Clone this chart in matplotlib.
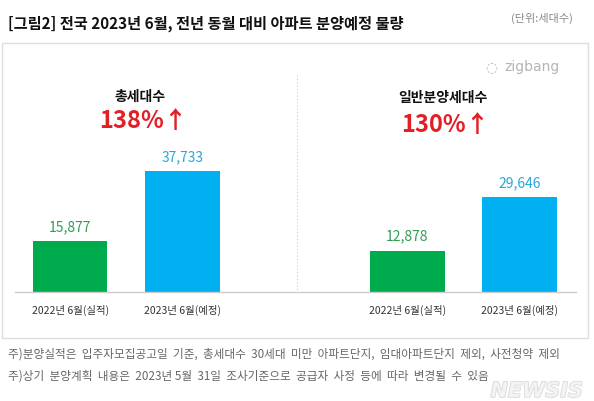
import matplotlib
matplotlib.use("Agg")
import matplotlib.pyplot as plt
from matplotlib.patches import Rectangle
from matplotlib.lines import Line2D
import matplotlib.patheffects as pe

plt.rcParams['font.family'] = ['Noto Sans CJK KR', 'DejaVu Sans']

title = "[그림2] 전국 2023년 6월, 전년 동월 대비 아파트 분양예정 물량"
unit = "(단위:세대수)"
categories = ["2022년 6월(실적)", "2023년 6월(예정)", "2022년 6월(실적)", "2023년 6월(예정)"]
values = [15877, 37733, 12878, 29646]
positions = [0, 1, 3, 4]
group_titles = ["총세대수", "일반분양세대수"]
group_changes = ["138%↑", "130%↑"]
notes = ["주)분양실적은  입주자모집공고일  기준,  총세대수  30세대  미만  아파트단지,  임대아파트단지  제외,  사전청약  제외",
         "주)상기  분양계획  내용은  2023년 5월  31일  조사기준으로  공급자  사정  등에  따라  변경될  수  있음"]

W, H = 594, 401
fig = plt.figure(figsize=(W / 100, H / 100), dpi=100)

def fx(px):
    return px / W

def fy(py):
    return 1 - py / H

# outer box
fig.patches.append(Rectangle((fx(2), fy(338)), fx(588) - fx(2), fy(43) - fy(338),
                             transform=fig.transFigure, fill=False,
                             edgecolor="#dddddd", linewidth=1.0))

# axes
ax_left, ax_right = 15, 576
ax_bottom, ax_top = 292, 60
ax = fig.add_axes([fx(ax_left), fy(ax_bottom), fx(ax_right) - fx(ax_left), fy(ax_top) - fy(ax_bottom)])
ax.set_xlim(-0.49, 4.5)
ax.set_ylim(0, (ax_bottom - ax_top) * 312)

green = "#00AB4E"
blue = "#00B0F0"
bar_colors = [green, blue, green, blue]
label_colors = ["#2E9E50", "#2AA6D8", "#2E9E50", "#2AA6D8"]
ax.bar(positions, values, width=0.665, color=bar_colors)
for p, v, c in zip(positions, values, label_colors):
    ax.annotate(f"{v:,}", (p, v), xytext=(0, 5), textcoords="offset points",
                ha="center", va="bottom", fontsize=10, color=c)

for s in ["top", "right", "left"]:
    ax.spines[s].set_visible(False)
ax.spines["bottom"].set_color("#cccccc")
ax.spines["bottom"].set_linewidth(1.0)
ax.set_yticks([])
ax.set_xticks(positions)
ax.set_xticklabels(categories, fontsize=7.5, color="#333333")
ax.tick_params(axis="x", length=0, pad=9)

# divider
fig.add_artist(Line2D([fx(297), fx(297)], [fy(75), fy(292)], transform=fig.transFigure,
                      color="#cccccc", linewidth=0.8, linestyle=(0, (1, 2))))

# group titles
fig.text(fx(140), fy(97), group_titles[0], ha="center", va="center", fontsize=10,
         fontweight="bold", color="#111111")
fig.text(fx(143), fy(121), group_changes[0], ha="center", va="center", fontsize=17,
         fontweight="bold", color="#E31E24")
fig.text(fx(443), fy(98), group_titles[1], ha="center", va="center", fontsize=10,
         fontweight="bold", color="#111111")
fig.text(fx(445), fy(125), group_changes[1], ha="center", va="center", fontsize=17,
         fontweight="bold", color="#E31E24")

# title
fig.text(fx(8), fy(24), title, ha="left", va="center", fontsize=11, fontweight="bold",
         color="#111111")
fig.text(fx(573), fy(18), unit, ha="right", va="center", fontsize=8, color="#888888")

# logo
fig.text(fx(560), fy(67), "zigbang", ha="right", va="center", fontsize=10,
         color="#b5b5b5", family=["DejaVu Sans"])
fig.text(fx(491), fy(67), "◌", ha="center", va="center", fontsize=10,
         color="#b5b5b5", family=["DejaVu Sans"])

# notes
fig.text(fx(8), fy(354), notes[0], ha="left", va="center", fontsize=8.4, color="#666666")
fig.text(fx(8), fy(376), notes[1], ha="left", va="center", fontsize=8.4, color="#666666")

# watermark
fig.text(fx(583), fy(391), "NEWSIS", ha="right", va="center", fontsize=15,
         fontweight="bold", fontstyle="italic", color="#f4f4f4", alpha=0.9,
         family=["DejaVu Sans"],
         path_effects=[pe.withStroke(linewidth=1.2, foreground="#d8d8d8")])

fig.savefig("out.png", dpi=100)
